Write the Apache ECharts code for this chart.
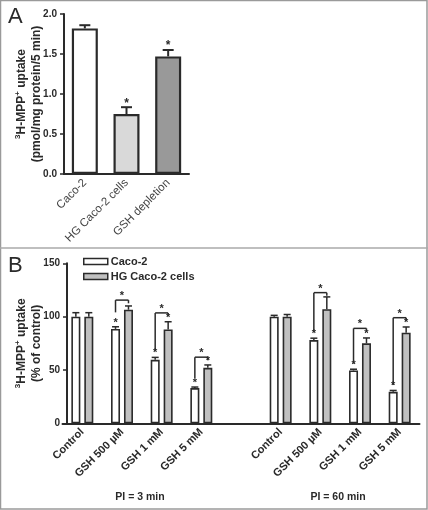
<!DOCTYPE html>
<html>
<head>
<meta charset="utf-8">
<script src="https://cdn.jsdelivr.net/npm/echarts@6/dist/echarts.min.js"></script>
<style>
html,body{margin:0;padding:0;background:#fff;}
#chart{width:428px;height:510px;}
</style>
</head>
<body>
<div id="chart"></div>
<script>
// ---------- Panel A data ----------
const catsA = ['Caco-2', 'HG Caco-2 cells', 'GSH depletion'];
const valsA = [1.82, 0.75, 1.47];
const errA  = [0.04, 0.085, 0.08];
const sigA  = [0, 1, 1];
const ticksA = [0, 0.5, 1.0, 1.5, 2.0];

// ---------- Panel B data ----------
const catsB = ['Control', 'GSH 500 µM', 'GSH 1 mM', 'GSH 5 mM', '', 'Control', 'GSH 500 µM', 'GSH 1 mM', 'GSH 5 mM'];
const cacoB    = [100, 88.5, 59.5, 33, null, 100, 78, 49.5, 29.5];
const cacoErrB = [3.7, 2, 2.3, 1, null, 1.2, 1.8, 1.2, 1.3];
const cacoSigB = [0, 1, 1, 1, 0, 0, 1, 1, 1];
const hgB      = [100, 106.5, 88, 52, null, 100, 107, 75, 85];
const hgErrB   = [3.7, 3.5, 7.2, 2.7, null, 2, 11.5, 5, 5.3];
const hgSigB   = [0, 0, 1, 1, 0, 0, 0, 1, 1];
// [category index, left foot value, bar top value, right foot value]
const bracketsB = [
  [1, 104, 115.5, 112.5],
  [2, 68.5, 103.5, 100.5],
  [3, 42.5, 62, 59],
  [6, 86, 122.5, 119.5],
  [7, 56, 89, 86],
  [8, 36, 99, 96]
];
const ticksB = [0, 50, 100, 150];
const groupTitles = ['PI = 3 min', 'PI = 60 min'];

const FONT = 'Liberation Sans, Arial, sans-serif';
const INK = '#2a2a2a';
const colorsA = ['#ffffff', '#d9d9d9', '#999999'];

const chart = echarts.init(document.getElementById('chart'), null, {renderer: 'canvas'});

function star(x, y, size) {
  return {type: 'text', style: {text: '*', x: x, y: y, textAlign: 'center', textVerticalAlign: 'middle',
    font: 'bold ' + size + 'px ' + FONT, fill: INK}};
}
function line(x1, y1, x2, y2, w) {
  return {type: 'line', shape: {x1: x1, y1: y1, x2: x2, y2: y2}, style: {stroke: INK, lineWidth: w}};
}

const errDataA = valsA.map((v, i) => [i, v, errA[i], sigA[i]]);
const BAR_W = 9, BAR_GAP = 0.44;
const halfSep = BAR_W * (1 + BAR_GAP) / 2;
const errDataB = [];
cacoB.forEach((v, i) => { if (v != null) errDataB.push([i, v, cacoErrB[i], cacoSigB[i], -1]); });
hgB.forEach((v, i) => { if (v != null) errDataB.push([i, v, hgErrB[i], hgSigB[i], 1]); });

const nameStyle = {fontFamily: FONT, fontWeight: 'bold', fontSize: 12, color: INK, lineHeight: 15,
  rich: {sup: {fontSize: 8, fontWeight: 'bold', verticalAlign: 'top', lineHeight: 15, fontFamily: FONT, color: INK}}};

const option = {
  animation: false,
  backgroundColor: '#fff',
  textStyle: {fontFamily: FONT},
  grid: [
    {left: 64, top: 14, width: 125, height: 160, containLabel: false, outerBoundsMode: 'none'},
    {left: 62.5, top: 263.3, width: 357, height: 160, containLabel: false, outerBoundsMode: 'none'}
  ],
  legend: {
    data: ['Caco-2', 'HG Caco-2 cells'],
    orient: 'vertical', left: 83, top: 256, padding: 0, itemWidth: 24, itemHeight: 6, itemGap: 4,
    icon: 'rect',
    itemStyle: {borderColor: INK, borderWidth: 1.5},
    textStyle: {fontFamily: FONT, fontWeight: 'bold', fontSize: 11, color: INK, padding: [0, 0, 0, -2]}
  },
  xAxis: [
    {type: 'category', gridIndex: 0, data: catsA,
      axisLine: {lineStyle: {color: INK, width: 2}}, axisTick: {show: false},
      axisLabel: {rotate: 45, interval: 0, fontSize: 11.5, color: '#444', fontFamily: FONT, margin: 7}},
    {type: 'category', gridIndex: 1, data: catsB,
      axisLine: {lineStyle: {color: INK, width: 2}}, axisTick: {show: false},
      axisLabel: {rotate: 45, interval: 0, fontSize: 11, fontWeight: 'bold', color: INK, fontFamily: FONT, margin: 7}}
  ],
  yAxis: [
    {type: 'value', gridIndex: 0, min: 0, max: 2, interval: 0.5,
      axisLine: {show: true, lineStyle: {color: INK, width: 2}},
      axisTick: {show: true, length: 4, lineStyle: {color: INK, width: 1.5}},
      splitLine: {show: false},
      axisLabel: {formatter: v => v.toFixed(1), fontSize: 10, fontWeight: 'bold', color: INK, margin: 7},
      name: '{sup|3}H-MPP{sup|+} uptake\n(pmol/mg protein/5 min)',
      nameLocation: 'middle', nameRotate: 90, nameGap: 20, nameMoveOverlap: false,
      nameTextStyle: nameStyle
    },
    {type: 'value', gridIndex: 1, min: 0, max: 150, interval: 50, offset: -4.5,
      axisLine: {show: true, lineStyle: {color: INK, width: 2}},
      axisTick: {show: true, length: 4, lineStyle: {color: INK, width: 1.5}},
      splitLine: {show: false},
      axisLabel: {fontSize: 10, fontWeight: 'bold', color: INK, margin: 7},
      name: '{sup|3}H-MPP{sup|+} uptake\n(% of control)',
      nameLocation: 'middle', nameRotate: 90, nameGap: 23, nameMoveOverlap: false,
      nameTextStyle: nameStyle
    }
  ],
  series: [
    {name: 'Uptake', type: 'bar', xAxisIndex: 0, yAxisIndex: 0, barWidth: 26,
      data: valsA.map((v, i) => ({value: v, itemStyle: {color: colorsA[i]}})),
      itemStyle: {borderColor: INK, borderWidth: 2.2}},
    {name: 'errA', type: 'custom', xAxisIndex: 0, yAxisIndex: 0, z: 5, data: errDataA,
      renderItem: function (params, api) {
        const b = api.coord([api.value(0), api.value(1)]);
        const t = api.coord([api.value(0), api.value(1) + api.value(2)]);
        const ch = [line(b[0], b[1], b[0], t[1], 2), line(b[0] - 5.5, t[1], b[0] + 5.5, t[1], 2)];
        if (api.value(3)) ch.push(star(b[0], t[1] - 4, 12));
        return {type: 'group', children: ch};
      }},
    {name: 'Caco-2', type: 'bar', xAxisIndex: 1, yAxisIndex: 1, barWidth: BAR_W, barGap: (BAR_GAP * 100) + '%',
      data: cacoB, itemStyle: {color: '#ffffff', borderColor: INK, borderWidth: 1.6}},
    {name: 'HG Caco-2 cells', type: 'bar', xAxisIndex: 1, yAxisIndex: 1, barWidth: BAR_W,
      data: hgB, itemStyle: {color: '#c0c0c0', borderColor: INK, borderWidth: 1.6}},
    {name: 'errB', type: 'custom', xAxisIndex: 1, yAxisIndex: 1, z: 5, data: errDataB,
      renderItem: function (params, api) {
        const b = api.coord([api.value(0), api.value(1)]);
        const t = api.coord([api.value(0), api.value(1) + api.value(2)]);
        const x = b[0] + api.value(4) * halfSep;
        const ch = [line(x, b[1], x, t[1], 1.5), line(x - 3.5, t[1], x + 3.5, t[1], 1.5)];
        if (api.value(3)) ch.push(star(x, t[1] - 4, 11));
        return {type: 'group', children: ch};
      }},
    {name: 'bracketsB', type: 'custom', xAxisIndex: 1, yAxisIndex: 1, z: 5, data: bracketsB,
      renderItem: function (params, api) {
        const c = api.value(0);
        const l = api.coord([c, api.value(1)]);
        const tp = api.coord([c, api.value(2)]);
        const r = api.coord([c, api.value(3)]);
        const xl = l[0] - halfSep, xr = l[0] + halfSep;
        return {type: 'group', children: [
          line(xl, l[1], xl, tp[1], 1.5),
          line(xl, tp[1], xr, tp[1], 1.5),
          line(xr, tp[1], xr, r[1], 1.5),
          star((xl + xr) / 2, tp[1] - 4, 11)
        ]};
      }}
  ],
  graphic: [
    {type: 'rect', shape: {x: 0.5, y: 0.5, width: 426.5, height: 508.5}, style: {fill: 'none', stroke: '#9a9a9a', lineWidth: 1.5}, silent: true},
    {type: 'line', shape: {x1: 0, y1: 248, x2: 428, y2: 248}, style: {stroke: '#aaaaaa', lineWidth: 1.5}, silent: true},
    {type: 'text', left: 8, top: 6, style: {text: 'A', font: '22px ' + FONT, fill: INK}},
    {type: 'text', left: 8, top: 255, style: {text: 'B', font: '22px ' + FONT, fill: INK}},
    {type: 'text', style: {text: groupTitles[0], x: 140, y: 497, textAlign: 'center', textVerticalAlign: 'middle', font: 'bold 10.5px ' + FONT, fill: INK}},
    {type: 'text', style: {text: groupTitles[1], x: 338, y: 497, textAlign: 'center', textVerticalAlign: 'middle', font: 'bold 10.5px ' + FONT, fill: INK}}
  ]
};
chart.setOption(option);
</script>
</body>
</html>
